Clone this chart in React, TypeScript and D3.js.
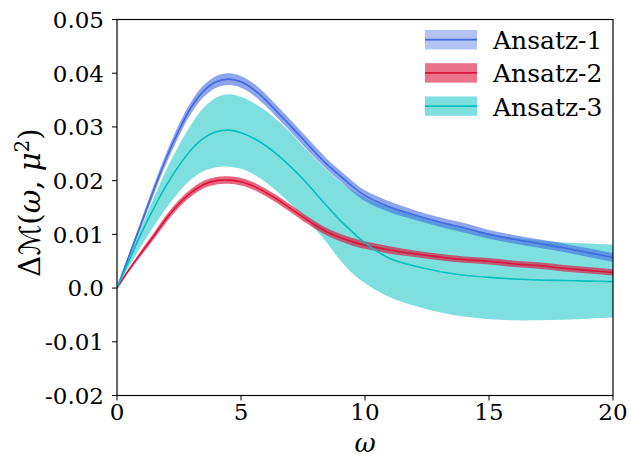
import React from "react";
import * as d3 from "d3";

const omega = [0, 0.5, 1, 1.5, 2, 2.5, 3, 3.5, 4, 4.5, 5, 5.5, 6, 6.5, 7, 7.5, 8, 8.5, 9, 9.5, 10, 11, 12, 13, 14, 15, 16, 17, 18, 19, 20];

const ansatz1Mean = [0, 0.0062, 0.0123, 0.0185, 0.0243, 0.0294, 0.0337, 0.0367, 0.0384, 0.0389, 0.0384, 0.037, 0.035, 0.0326, 0.0302, 0.0277, 0.0252, 0.0229, 0.0209, 0.0189, 0.0172, 0.0151, 0.0136, 0.0123, 0.0112, 0.01, 0.0091, 0.0083, 0.0075, 0.0066, 0.0057];
const ansatz1Err = [0, 0.0004, 0.0007, 0.0009, 0.001, 0.0011, 0.0011, 0.0011, 0.0011, 0.0011, 0.0011, 0.0011, 0.0011, 0.0011, 0.0011, 0.0011, 0.0011, 0.001, 0.001, 0.001, 0.001, 0.001, 0.0009, 0.0009, 0.0009, 0.0008, 0.0008, 0.0008, 0.0008, 0.0008, 0.0008];

const ansatz2Mean = [0, 0.0035, 0.0067, 0.0098, 0.013, 0.0157, 0.0178, 0.0193, 0.02, 0.0201, 0.0198, 0.019, 0.0178, 0.0164, 0.0148, 0.0132, 0.0117, 0.0104, 0.0094, 0.0086, 0.008, 0.0071, 0.0064, 0.0058, 0.0053, 0.005, 0.0045, 0.0042, 0.0037, 0.0033, 0.0029];
const ansatz2Err = [0, 0.0003, 0.0005, 0.0006, 0.0007, 0.0007, 0.0007, 0.0007, 0.0007, 0.0007, 0.0007, 0.0007, 0.0007, 0.0007, 0.0007, 0.0007, 0.0007, 0.0007, 0.0007, 0.0007, 0.0007, 0.0007, 0.0006, 0.0006, 0.0006, 0.0006, 0.0006, 0.0006, 0.0006, 0.0006, 0.0006];

const ansatz3Mean = [0, 0.0053, 0.0104, 0.015, 0.0192, 0.0228, 0.0258, 0.0279, 0.0291, 0.0294, 0.0289, 0.0279, 0.0265, 0.0247, 0.0226, 0.0203, 0.0177, 0.0151, 0.0126, 0.0104, 0.0084, 0.0055, 0.0041, 0.0031, 0.0024, 0.002, 0.0017, 0.0015, 0.0014, 0.0013, 0.0012];
const ansatz3Upper = [0, 0.0058, 0.0115, 0.017, 0.0221, 0.0266, 0.0305, 0.0336, 0.0355, 0.0361, 0.0356, 0.0345, 0.033, 0.0311, 0.0289, 0.0264, 0.024, 0.0218, 0.0198, 0.0181, 0.0168, 0.015, 0.0135, 0.0122, 0.0112, 0.0101, 0.0094, 0.0089, 0.0085, 0.0083, 0.0081];
const ansatz3Lower = [0, 0.0041, 0.008, 0.0116, 0.015, 0.0179, 0.0203, 0.0218, 0.0225, 0.0226, 0.0222, 0.0212, 0.0197, 0.0178, 0.0157, 0.0134, 0.011, 0.0082, 0.0052, 0.0027, 0.0009, -0.0017, -0.0033, -0.0045, -0.0053, -0.0058, -0.006, -0.006, -0.0059, -0.0057, -0.0055];

const xTicks = [0, 5, 10, 15, 20];
const yTicks = [-0.02, -0.01, 0.0, 0.01, 0.02, 0.03, 0.04, 0.05];
const yTickLabels = ["-0.02", "-0.01", "0.0", "0.01", "0.02", "0.03", "0.04", "0.05"];
const legendLabels = ["Ansatz-1", "Ansatz-2", "Ansatz-3"];

const W = 631;
const H = 458;
const left = 117;
const right = 613;
const top = 19.5;
const bottom = 395.5;
const SERIF = "'DejaVu Serif', serif";

export default function App() {
  const x = d3.scaleLinear().domain([0, 20]).range([left, right]);
  const y = d3.scaleLinear().domain([-0.02, 0.05]).range([bottom, top]);
  const curve = d3.curveCatmullRom.alpha(0.5);

  const line = (vals: number[]) =>
    d3
      .line<number>()
      .x((_, i) => x(omega[i]))
      .y((d) => y(d))
      .curve(curve)(vals) as string;

  const area = (lo: number[], hi: number[]) =>
    d3
      .area<number>()
      .x((_, i) => x(omega[i]))
      .y0((_, i) => y(lo[i]))
      .y1((_, i) => y(hi[i]))
      .curve(curve)(omega) as string;

  const a1Lo = ansatz1Mean.map((m, i) => m - ansatz1Err[i]);
  const a1Hi = ansatz1Mean.map((m, i) => m + ansatz1Err[i]);
  const a2Lo = ansatz2Mean.map((m, i) => m - ansatz2Err[i]);
  const a2Hi = ansatz2Mean.map((m, i) => m + ansatz2Err[i]);

  const colors = ["#4169e1", "#dc143c", "#00bfbf"];
  const legendAlpha = [0.4, 0.6, 0.5];
  const tf = { fontFamily: SERIF };

  return (
    <svg
      width={W}
      height={H}
      style={{ position: "absolute", left: 0, top: 0, background: "#fff" }}
    >
      <defs>
        <clipPath id="plotclip">
          <rect x={left} y={top} width={right - left} height={bottom - top} />
        </clipPath>
      </defs>
      <g clipPath="url(#plotclip)">
        <path d={area(ansatz3Lower, ansatz3Upper)} fill="#00bfbf" fillOpacity={0.5} stroke="none" />
        <path d={area(a1Lo, a1Hi)} fill="#4169e1" fillOpacity={0.6} stroke="none" />
        <path d={area(a2Lo, a2Hi)} fill="#dc143c" fillOpacity={0.65} stroke="none" />
        <path d={line(ansatz1Mean)} fill="none" stroke="#4169e1" strokeWidth={1.6} />
        <path d={line(ansatz2Mean)} fill="none" stroke="#dc143c" strokeWidth={1.6} />
        <path d={line(ansatz3Mean)} fill="none" stroke="#00bfbf" strokeWidth={1.6} />
      </g>
      <rect x={left} y={top} width={right - left} height={bottom - top} fill="none" stroke="#000" strokeWidth={1.2} />
      {xTicks.map((t) => (
        <g key={"x" + t}>
          <line x1={x(t)} x2={x(t)} y1={bottom} y2={bottom + 5} stroke="#000" strokeWidth={1} />
          <text x={x(t)} y={bottom + 24} textAnchor="middle" fontSize={23} style={tf}>
            {t}
          </text>
        </g>
      ))}
      {yTicks.map((t, i) => (
        <g key={"y" + t}>
          <line x1={left - 5} x2={left} y1={y(t)} y2={y(t)} stroke="#000" strokeWidth={1} />
          <text x={left - 13} y={y(t) + 8.4} textAnchor="end" fontSize={23} style={tf}>
            {yTickLabels[i]}
          </text>
        </g>
      ))}
      <text x={(left + right) / 2} y={452} textAnchor="middle" fontSize={26} fontStyle="italic" style={tf}>
        ω
      </text>
      <text transform={`translate(40, ${(top + bottom) / 2 - 5}) rotate(-90)`} textAnchor="middle" fontSize={29} style={tf}>
        <tspan>Δ</tspan>
        <tspan style={{ fontFamily: "'DejaVu Sans'" }}>ℳ</tspan>
        <tspan>(</tspan>
        <tspan fontStyle="italic">ω</tspan>
        <tspan>, </tspan>
        <tspan fontStyle="italic">μ</tspan>
        <tspan fontSize={20} dy={-11}>2</tspan>
        <tspan dy={11}>)</tspan>
      </text>
      {legendLabels.map((lab, i) => {
        const cy = 39.7 + i * 33.2;
        return (
          <g key={lab}>
            <rect x={425} y={cy - 9.7} width={52} height={19.4} fill={colors[i]} fillOpacity={legendAlpha[i]} />
            <line x1={425} x2={477} y1={cy} y2={cy} stroke={colors[i]} strokeWidth={1.8} />
            <text x={493} y={cy + 9.4} fontSize={25} style={tf}>
              {lab}
            </text>
          </g>
        );
      })}
    </svg>
  );
}
